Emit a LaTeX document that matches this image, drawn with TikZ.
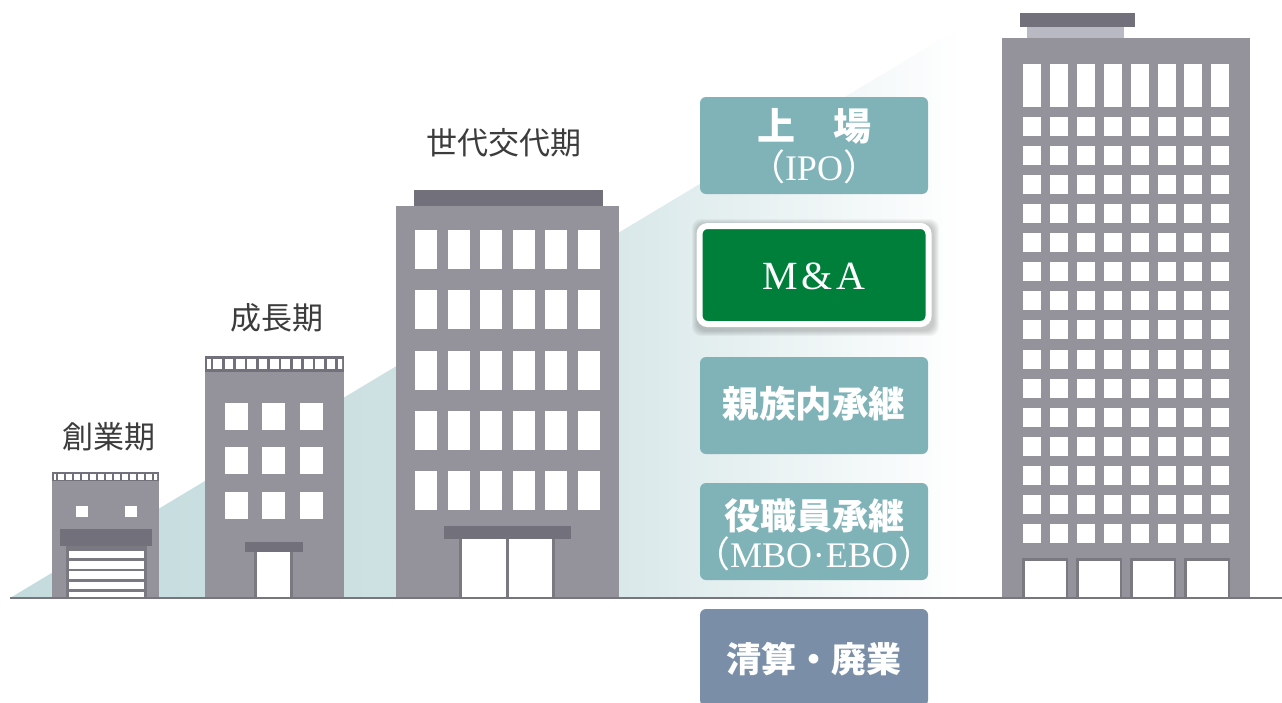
\documentclass[tikz,border=0pt]{standalone}
\usepackage{fontspec}
\setmainfont{Liberation Serif}
\newfontfamily\jpfont{Noto Sans CJK JP}
\usetikzlibrary{calc}

\definecolor{bldg}{HTML}{94939C}
\definecolor{bldgdark}{HTML}{72717B}
\definecolor{roofpale}{HTML}{B9B9C3}
\definecolor{doorframe}{HTML}{7A7982}
\definecolor{groundline}{HTML}{77767F}
\definecolor{slopeteal}{HTML}{C4DBDD}
\definecolor{tealbox}{HTML}{7FB3B8}
\definecolor{mnagreen}{HTML}{007F3B}
\definecolor{slatebox}{HTML}{7A8FA7}
\definecolor{labelgray}{HTML}{3C3C3C}

% horizontal fade of the rising wedge: teal on the left, white towards the tower
\pgfdeclarehorizontalshading{risefade}{100bp}{color(0bp)=(slopeteal); color(25bp)=(slopeteal); color(52bp)=(slopeteal!78!white); color(73bp)=(white); color(100bp)=(white)}

\tikzset{
  body/.style={fill=bldg},
  trim/.style={fill=bldgdark},
  pane/.style={fill=white},
  frame/.style={fill=doorframe},
  toplabel/.style={font=\jpfont\fontsize{31}{31}\selectfont, text=labelgray, inner sep=0pt},
  choice/.style={rounded corners=6pt, minimum width=228pt, minimum height=97pt, inner sep=0pt},
  jptext/.style={text=white, inner sep=0pt, font=\jpfont\bfseries\fontsize{#1}{#1}\selectfont},
  latintext/.style={text=white, inner sep=0pt, font=\fontsize{#1}{#1}\selectfont},
}

\begin{document}
\begin{tikzpicture}[x=1pt,y=-1pt]
\useasboundingbox (0,0) rectangle (1282,702);
\fill[white] (0,0) rectangle (1282,702);

% rising wedge behind the buildings
\shade[shading=risefade] (10,598) -- (1003,2) -- (1003,598) -- cycle;

% ---------- start-up building ----------
\fill[body] (52,472) rectangle (159,598);
\fill[trim] (52,472) rectangle (159,481);
\begin{scope}
  \clip (54,474) rectangle (157,480);
  \foreach \k in {0,...,13} \fill[pane] ({50.3+8*\k},474) rectangle ({55.8+8*\k},480);
\end{scope}
\fill[pane] (76,506) rectangle (88,517);
\fill[pane] (125,506) rectangle (137,517);
\fill[trim] (60,529) rectangle (152,546);
\fill[frame] (66,546) rectangle (147,598);
\foreach \k in {0,...,4} \fill[pane] (69,{550.7+10.3*\k}) rectangle (144,{558.4+10.3*\k});

% ---------- growth building ----------
\fill[body] (205,356) rectangle (344,598);
\fill[trim] (205,356) rectangle (344,372);
\begin{scope}
  \clip (207,359) rectangle (342,369);
  \foreach \k in {-1,...,11} \fill[pane] ({213.3+11.33*\k},359) rectangle ({222+11.33*\k},369);
\end{scope}
\foreach \cx in {225,262,300}
  \foreach \ry in {403,447,492}
    \fill[pane] (\cx,\ry) rectangle (\cx+23,\ry+27);
\fill[trim] (245,542) rectangle (303,552);
\fill[frame] (254,552) rectangle (293,598);
\fill[pane] (257,552) rectangle (290,598);

% ---------- succession building ----------
\fill[trim] (414,190) rectangle (603,206);
\fill[body] (396,206) rectangle (619,598);
\foreach \i in {0,...,5}
  \foreach \j in {0,...,4}
    \fill[pane] ({415+32.6*\i},{230+60.25*\j}) rectangle ({437+32.6*\i},{269+60.25*\j});
\fill[trim] (444,526) rectangle (571,539);
\fill[frame] (459,539) rectangle (555,598);
\fill[pane] (462,539) rectangle (552,598);
\fill[frame] (506,539) rectangle (509,598);

% ---------- tower ----------
\fill[trim] (1020,13) rectangle (1135,27);
\fill[roofpale] (1027,27) rectangle (1124,38);
\fill[body] (1002,38) rectangle (1250,598);
\foreach \i in {0,...,7} {
  \fill[pane] ({1023+26.9*\i},64) rectangle ({1041+26.9*\i},107);
  \foreach \j in {0,...,14}
    \fill[pane] ({1023+26.9*\i},{117+29.07*\j}) rectangle ({1041+26.9*\i},{136+29.07*\j});
}
\foreach \dx in {1022,1076,1130,1184} {
  \fill[frame] (\dx,558) rectangle (\dx+46,598);
  \fill[pane] (\dx+2.5,560.5) rectangle (\dx+44,598);
}

% ground line
\draw[groundline, line width=1.8pt] (10,598) -- (1282,598);

% ---------- stage labels ----------
\node[toplabel] (stage1) at (109,437) {創業期};
\node[toplabel] (stage2) at (277,318) {成長期};
\node[toplabel] (stage3) at (504,143) {世代交代期};

% ---------- exit options ----------
\node[choice, fill=tealbox] (ipo) at (814,145.5) {};
\node[jptext=38] (ipoA) at (814,126.5) {上　場};
\node[latintext=36, anchor=base] (ipoB) at (814,180) {{\jpfont （}IPO{\jpfont ）}};

% soft shadow under the highlighted option
\foreach \s in {1,...,6}
  \fill[black, opacity=0.035, rounded corners=9pt] ({698-\s},{225-\s}) rectangle ({933+\s},{330+\s});
\node[choice, fill=mnagreen, draw=white, line width=6pt, minimum width=229pt, minimum height=98pt, rounded corners=8pt] (mna) at (814,275) {};
\node[latintext=40, anchor=base] (mnaA) at (814,289) {M\kern4pt\&\kern4pt A};

\node[choice, fill=tealbox] (family) at (814,405.5) {};
\node[jptext=36.5] (familyA) at (814,404) {親族内承継};

\node[choice, fill=tealbox] (staff) at (814,531.5) {};
\node[jptext=36] (staffA) at (814,516) {役職員承継};
\node[latintext=36, anchor=base] (staffB) at (814,567) {{\jpfont （}MBO\kern1pt·\kern1pt EBO{\jpfont ）}};

\node[choice, fill=slatebox] (close) at (814,657.5) {};
\node[jptext=35] (closeA) at (814,659) {清算・廃業};
\end{tikzpicture}
\end{document}
